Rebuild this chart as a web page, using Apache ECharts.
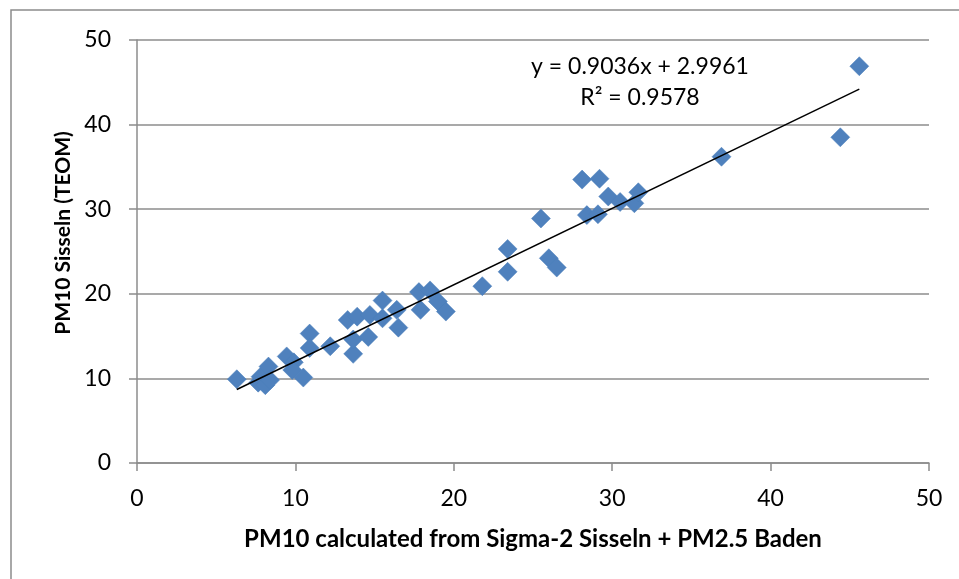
<!DOCTYPE html>
<html>
<head>
<meta charset="utf-8">
<script src="https://cdn.jsdelivr.net/npm/echarts@6/dist/echarts.min.js"></script>
<style>
  html, body { margin: 0; padding: 0; background: #fff; }
  #chart { width: 959px; height: 579px; }
</style>
</head>
<body>
<div id="chart"></div>
<script>
// measured pairs: x = calculated PM10, y = TEOM
const xVals = [6.3, 7.65, 7.8, 8.1, 8.3, 8.4, 9.45, 9.9, 9.8, 10.5, 10.9, 10.9, 12.2, 13.3, 13.65, 13.65, 13.9,
  14.6, 14.7, 15.5, 15.5, 16.4, 16.5, 17.8, 17.9, 18.5, 19.0, 19.5, 21.8, 23.4, 23.4, 25.5, 26.0, 26.5,
  28.1, 29.2, 28.4, 29.1, 29.75, 30.5, 31.4, 31.65, 36.9, 44.4, 45.6];
const yVals = [9.9, 9.5, 10.2, 9.2, 11.4, 9.8, 12.6, 11.9, 11.0, 10.1, 15.3, 13.6, 13.8, 16.9, 12.9, 14.6, 17.3,
  14.9, 17.5, 19.2, 17.1, 18.1, 16.0, 20.2, 18.1, 20.4, 19.1, 17.9, 20.9, 25.3, 22.6, 28.9, 24.2, 23.1,
  33.5, 33.6, 29.3, 29.4, 31.5, 30.85, 30.7, 32.0, 36.2, 38.5, 46.9];
const slope = 0.9036, intercept = 2.9961, r2 = 0.9578;
const xTitle = 'PM10 calculated from Sigma-2 Sisseln + PM2.5 Baden';
const yTitle = 'PM10 Sisseln (TEOM)';

const points = xVals.map((x, i) => [x, yVals[i]]);
const xMin = Math.min(...xVals), xMax = Math.max(...xVals);
const trend = [[xMin, slope * xMin + intercept], [xMax, slope * xMax + intercept]];

const chart = echarts.init(document.getElementById('chart'));
const gridColor = '#8c8c8c';
const font = 'Lato, "Open Sans", sans-serif';

chart.setOption({
  backgroundColor: '#fff',
  animation: false,
  grid: { left: 137, right: 30, top: 40, bottom: 116 },
  graphic: [{
    type: 'rect',
    shape: { x: 11, y: 10, width: 1000, height: 1000 },
    style: { fill: 'none', stroke: '#8c8c8c', lineWidth: 1.5 },
    silent: true
  }, {
    type: 'text',
    style: { text: 'y = ' + slope + 'x + ' + intercept, x: 640, y: 67, fill: '#000', font: '23px ' + font, textAlign: 'center', textVerticalAlign: 'middle' }
  }, {
    type: 'text',
    style: { text: 'R² = ' + r2, x: 640, y: 98, fill: '#000', font: '23px ' + font, textAlign: 'center', textVerticalAlign: 'middle' }
  }, {
    // y axis title sits a little above the plot centre in the original
    type: 'text',
    x: 63, y: 233, rotation: Math.PI / 2,
    style: { text: yTitle, fill: '#000', font: 'bold 21px ' + font, textAlign: 'center', textVerticalAlign: 'middle' }
  }],
  xAxis: {
    type: 'value', min: 0, max: 50, interval: 10,
    name: xTitle, nameLocation: 'middle', nameGap: 64,
    nameTextStyle: { fontFamily: font, fontWeight: 'bold', fontSize: 24, color: '#000' },
    axisLine: { lineStyle: { color: gridColor, width: 1.5 } },
    axisTick: { show: true, length: 8, lineStyle: { color: gridColor, width: 1.5 } },
    axisLabel: { fontFamily: font, fontSize: 23, color: '#000', margin: 24 },
    splitLine: { show: false }
  },
  yAxis: {
    type: 'value', min: 0, max: 50, interval: 10,
    axisLine: { show: true, lineStyle: { color: gridColor, width: 1.5 } },
    axisTick: { show: true, length: 8, lineStyle: { color: gridColor, width: 1.5 } },
    axisLabel: { fontFamily: font, fontSize: 23, color: '#000', margin: 26 },
    splitLine: { show: true, lineStyle: { color: gridColor, width: 1.5 } }
  },
  series: [{
    type: 'scatter',
    data: points,
    symbol: 'diamond',
    symbolSize: 19,
    itemStyle: { color: '#4f81bd', borderColor: '#4a7ebb', borderWidth: 0.5, opacity: 1 },
    z: 2
  }, {
    type: 'line',
    data: trend,
    symbol: 'none',
    lineStyle: { color: '#000', width: 1.5 },
    z: 3
  }]
});
</script>
</body>
</html>
